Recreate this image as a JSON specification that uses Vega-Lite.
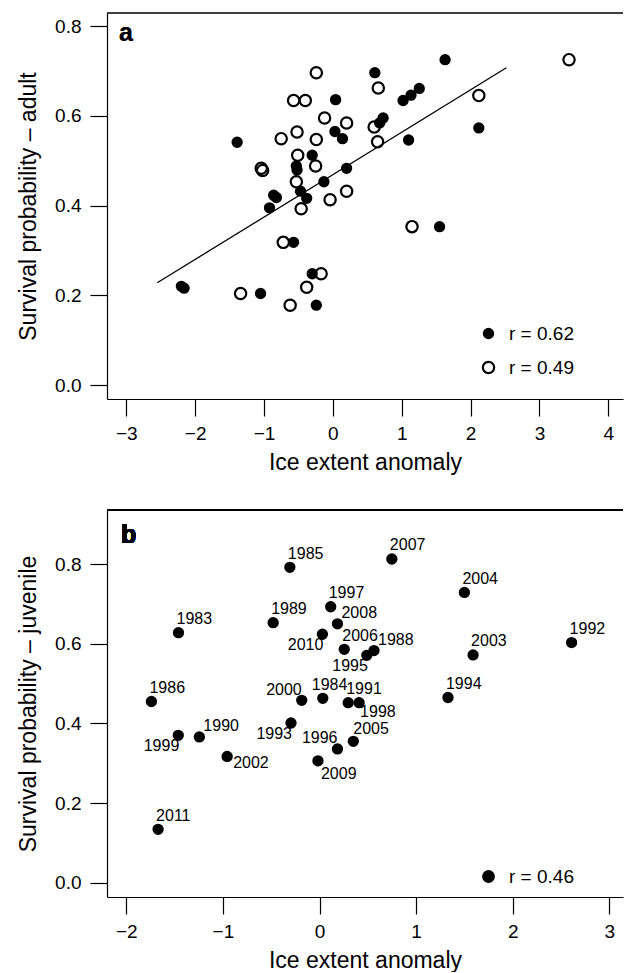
{
  "$schema": "https://vega.github.io/schema/vega-lite/v6.json",
  "background": "white",
  "padding": {"left": 17, "top": 12, "right": 0, "bottom": 0},
  "autosize": {"type": "pad"},
  "spacing": 35,
  "resolve": {
    "scale": {"fill": "independent", "strokeWidth": "independent"},
    "legend": {"fill": "independent", "strokeWidth": "independent"}
  },
  "config": {
    "view": {"stroke": null},
    "font": "Liberation Sans",
    "axis": {
      "labelFont": "Liberation Sans", "labelFontSize": 19, "labelColor": "black",
      "titleFont": "Liberation Sans", "titleFontSize": 23, "titleFontWeight": "normal", "titleColor": "black",
      "grid": false, "domainColor": "black", "domainWidth": 1.2,
      "tickColor": "black", "tickWidth": 1.2, "tickSize": 17,
      "labelPadding": 8, "labelFlush": false, "labelOverlap": false
    },
    "axisX": {"titlePadding": 8},
    "axisY": {"titlePadding": 14, "labelPadding": 9},
    "legend": {
      "labelFont": "Liberation Sans", "labelFontSize": 19, "labelColor": "black",
      "symbolType": "circle", "symbolSize": 128, "labelOffset": 11, "rowPadding": 13,
      "padding": 0, "symbolStrokeColor": "black"
    }
  },
  "datasets": {
    "adult": [
      {"ice": -1.34, "survival": 0.204, "group": "r = 0.49"},
      {"ice": -1.04, "survival": 0.483, "group": "r = 0.49"},
      {"ice": -1.02, "survival": 0.478, "group": "r = 0.49"},
      {"ice": -0.75, "survival": 0.549, "group": "r = 0.49"},
      {"ice": -0.72, "survival": 0.318, "group": "r = 0.49"},
      {"ice": -0.62, "survival": 0.178, "group": "r = 0.49"},
      {"ice": -0.57, "survival": 0.634, "group": "r = 0.49"},
      {"ice": -0.52, "survival": 0.564, "group": "r = 0.49"},
      {"ice": -0.51, "survival": 0.512, "group": "r = 0.49"},
      {"ice": -0.53, "survival": 0.453, "group": "r = 0.49"},
      {"ice": -0.46, "survival": 0.393, "group": "r = 0.49"},
      {"ice": -0.40, "survival": 0.634, "group": "r = 0.49"},
      {"ice": -0.38, "survival": 0.218, "group": "r = 0.49"},
      {"ice": -0.24, "survival": 0.696, "group": "r = 0.49"},
      {"ice": -0.24, "survival": 0.547, "group": "r = 0.49"},
      {"ice": -0.25, "survival": 0.488, "group": "r = 0.49"},
      {"ice": -0.17, "survival": 0.248, "group": "r = 0.49"},
      {"ice": -0.12, "survival": 0.595, "group": "r = 0.49"},
      {"ice": -0.04, "survival": 0.413, "group": "r = 0.49"},
      {"ice": 0.20, "survival": 0.584, "group": "r = 0.49"},
      {"ice": 0.20, "survival": 0.432, "group": "r = 0.49"},
      {"ice": 0.60, "survival": 0.575, "group": "r = 0.49"},
      {"ice": 0.65, "survival": 0.542, "group": "r = 0.49"},
      {"ice": 0.66, "survival": 0.662, "group": "r = 0.49"},
      {"ice": 1.15, "survival": 0.353, "group": "r = 0.49"},
      {"ice": 2.12, "survival": 0.645, "group": "r = 0.49"},
      {"ice": 3.43, "survival": 0.725, "group": "r = 0.49"},
      {"ice": -2.20, "survival": 0.220, "group": "r = 0.62"},
      {"ice": -2.16, "survival": 0.216, "group": "r = 0.62"},
      {"ice": -1.39, "survival": 0.541, "group": "r = 0.62"},
      {"ice": -1.05, "survival": 0.204, "group": "r = 0.62"},
      {"ice": -0.92, "survival": 0.395, "group": "r = 0.62"},
      {"ice": -0.86, "survival": 0.423, "group": "r = 0.62"},
      {"ice": -0.82, "survival": 0.418, "group": "r = 0.62"},
      {"ice": -0.57, "survival": 0.318, "group": "r = 0.62"},
      {"ice": -0.53, "survival": 0.488, "group": "r = 0.62"},
      {"ice": -0.52, "survival": 0.479, "group": "r = 0.62"},
      {"ice": -0.47, "survival": 0.432, "group": "r = 0.62"},
      {"ice": -0.38, "survival": 0.416, "group": "r = 0.62"},
      {"ice": -0.30, "survival": 0.512, "group": "r = 0.62"},
      {"ice": -0.30, "survival": 0.248, "group": "r = 0.62"},
      {"ice": -0.24, "survival": 0.178, "group": "r = 0.62"},
      {"ice": -0.13, "survival": 0.453, "group": "r = 0.62"},
      {"ice": 0.03, "survival": 0.565, "group": "r = 0.62"},
      {"ice": 0.04, "survival": 0.636, "group": "r = 0.62"},
      {"ice": 0.14, "survival": 0.549, "group": "r = 0.62"},
      {"ice": 0.20, "survival": 0.483, "group": "r = 0.62"},
      {"ice": 0.61, "survival": 0.696, "group": "r = 0.62"},
      {"ice": 0.68, "survival": 0.584, "group": "r = 0.62"},
      {"ice": 0.73, "survival": 0.595, "group": "r = 0.62"},
      {"ice": 1.02, "survival": 0.634, "group": "r = 0.62"},
      {"ice": 1.135, "survival": 0.646, "group": "r = 0.62"},
      {"ice": 1.255, "survival": 0.661, "group": "r = 0.62"},
      {"ice": 1.10, "survival": 0.546, "group": "r = 0.62"},
      {"ice": 1.55, "survival": 0.353, "group": "r = 0.62"},
      {"ice": 1.63, "survival": 0.725, "group": "r = 0.62"},
      {"ice": 2.12, "survival": 0.573, "group": "r = 0.62"}
    ],
    "fit": [
      {"ice": -2.55, "survival": 0.228},
      {"ice": 2.52, "survival": 0.707}
    ],
    "juvenile": [
      {"year": 1983, "ice": -1.46, "survival": 0.628, "group": "r = 0.46"},
      {"year": 1984, "ice": 0.034, "survival": 0.463, "group": "r = 0.46"},
      {"year": 1985, "ice": -0.307, "survival": 0.792, "group": "r = 0.46"},
      {"year": 1986, "ice": -1.74, "survival": 0.455, "group": "r = 0.46"},
      {"year": 1988, "ice": 0.564, "survival": 0.583, "group": "r = 0.46"},
      {"year": 1989, "ice": -0.48, "survival": 0.653, "group": "r = 0.46"},
      {"year": 1990, "ice": -1.244, "survival": 0.366, "group": "r = 0.46"},
      {"year": 1991, "ice": 0.297, "survival": 0.452, "group": "r = 0.46"},
      {"year": 1992, "ice": 2.61, "survival": 0.603, "group": "r = 0.46"},
      {"year": 1993, "ice": -0.295, "survival": 0.401, "group": "r = 0.46"},
      {"year": 1994, "ice": 1.33, "survival": 0.465, "group": "r = 0.46"},
      {"year": 1995, "ice": 0.49, "survival": 0.571, "group": "r = 0.46"},
      {"year": 1996, "ice": 0.186, "survival": 0.336, "group": "r = 0.46"},
      {"year": 1997, "ice": 0.116, "survival": 0.693, "group": "r = 0.46"},
      {"year": 1998, "ice": 0.41, "survival": 0.452, "group": "r = 0.46"},
      {"year": 1999, "ice": -1.462, "survival": 0.370, "group": "r = 0.46"},
      {"year": 2000, "ice": -0.184, "survival": 0.458, "group": "r = 0.46"},
      {"year": 2002, "ice": -0.956, "survival": 0.317, "group": "r = 0.46"},
      {"year": 2003, "ice": 1.59, "survival": 0.572, "group": "r = 0.46"},
      {"year": 2004, "ice": 1.50, "survival": 0.729, "group": "r = 0.46"},
      {"year": 2005, "ice": 0.35, "survival": 0.355, "group": "r = 0.46"},
      {"year": 2006, "ice": 0.256, "survival": 0.586, "group": "r = 0.46"},
      {"year": 2007, "ice": 0.749, "survival": 0.813, "group": "r = 0.46"},
      {"year": 2008, "ice": 0.186, "survival": 0.650, "group": "r = 0.46"},
      {"year": 2009, "ice": -0.016, "survival": 0.306, "group": "r = 0.46"},
      {"year": 2010, "ice": 0.03, "survival": 0.624, "group": "r = 0.46"},
      {"year": 2011, "ice": -1.671, "survival": 0.134, "group": "r = 0.46"}
    ]
  },
  "vconcat": [
    {
      "width": 516,
      "height": 386,
      "layer": [
        {
          "data": {"name": "fit"},
          "mark": {"type": "rule", "color": "black", "strokeWidth": 1.2},
          "encoding": {
            "y": {"datum": 0.829, "type": "quantitative", "scale": {"domain": [-0.031, 0.829], "nice": false, "zero": false}}
          }
        },
        {
          "data": {"name": "fit"},
          "mark": {"type": "line", "color": "black", "strokeWidth": 1.3},
          "encoding": {
            "x": {"field": "ice", "type": "quantitative", "scale": {"domain": [-3.28, 4.214], "nice": false, "zero": false}},
            "y": {"field": "survival", "type": "quantitative", "scale": {"domain": [-0.031, 0.829], "nice": false, "zero": false}}
          }
        },
        {
          "data": {"name": "adult"},
          "mark": {"type": "point", "shape": "circle", "size": 128, "stroke": "black", "opacity": 1},
          "encoding": {
            "x": {"field": "ice", "type": "quantitative", "scale": {"domain": [-3.28, 4.214], "nice": false, "zero": false},
                  "axis": {"values": [-3, -2, -1, 0, 1, 2, 3, 4], "format": "d", "title": "Ice extent anomaly"}},
            "y": {"field": "survival", "type": "quantitative", "scale": {"domain": [-0.031, 0.829], "nice": false, "zero": false},
                  "axis": {"values": [0, 0.2, 0.4, 0.6, 0.8], "format": ".1f", "title": "Survival probability – adult"}},
            "fill": {"field": "group", "type": "nominal", "sort": null,
                     "scale": {"domain": ["r = 0.62", "r = 0.49"], "range": ["black", "transparent"]},
                     "legend": {"title": null, "orient": "none", "legendX": 372, "legendY": 311, "symbolSize": 128}},
            "strokeWidth": {"field": "group", "type": "nominal", "sort": null,
                     "scale": {"domain": ["r = 0.62", "r = 0.49"], "range": [0, 2.2]},
                     "legend": {"title": null, "orient": "none", "legendX": 372, "legendY": 311, "symbolSize": 128}}
          }
        },
        {
          "data": {"name": "fit"},
          "mark": {"type": "text", "text": "a", "fontSize": 25, "fontWeight": "bold", "align": "left", "baseline": "alphabetic", "color": "black"},
          "encoding": {
            "x": {"datum": -3.106, "type": "quantitative", "scale": {"domain": [-3.28, 4.214], "nice": false, "zero": false}},
            "y": {"datum": 0.766, "type": "quantitative", "scale": {"domain": [-0.031, 0.829], "nice": false, "zero": false}}
          }
        }
      ]
    },
    {
      "width": 516,
      "height": 387,
      "data": {"name": "juvenile"},
      "encoding": {
        "x": {"field": "ice", "type": "quantitative", "scale": {"domain": [-2.2, 3.142], "nice": false, "zero": false},
              "axis": {"values": [-2, -1, 0, 1, 2, 3], "format": "d", "title": "Ice extent anomaly"}},
        "y": {"field": "survival", "type": "quantitative", "scale": {"domain": [-0.036, 0.936], "nice": false, "zero": false},
              "axis": {"values": [0, 0.2, 0.4, 0.6, 0.8], "format": ".1f", "title": "Survival probability – juvenile"}},
        "text": {"field": "year", "type": "quantitative", "format": "d"}
      },
      "layer": [
        {
          "mark": {"type": "rule", "color": "black", "strokeWidth": 1.2},
          "encoding": {
            "x": null, "text": null,
            "y": {"datum": 0.936, "type": "quantitative"}
          }
        },
        {
          "mark": {"type": "point", "shape": "circle", "size": 128, "opacity": 1, "strokeWidth": 0},
          "encoding": {
            "text": null,
            "fill": {"field": "group", "type": "nominal",
                     "scale": {"domain": ["r = 0.46"], "range": ["black"]},
                     "legend": {"title": null, "orient": "none", "legendX": 372, "legendY": 357, "symbolSize": 128}}
          }
        },
        {
          "transform": [{"filter": {"field": "year", "oneOf": [1983, 1985, 2007, 2004, 1992, 2003, 1989, 1997, 2006, 1986, 1991, 1994, 2011]}}],
          "mark": {"type": "text", "fontSize": 16, "align": "left", "baseline": "middle", "dx": -2, "dy": -13.5, "color": "black"}
        },
        {
          "transform": [{"filter": {"field": "year", "oneOf": [2005]}}],
          "mark": {"type": "text", "fontSize": 16, "align": "left", "baseline": "middle", "dx": 0, "dy": -12, "color": "black"}
        },
        {
          "transform": [{"filter": {"field": "year", "oneOf": [2008, 1988, 1990]}}],
          "mark": {"type": "text", "fontSize": 16, "align": "left", "baseline": "middle", "dx": 4, "dy": -11, "color": "black"}
        },
        {
          "transform": [{"filter": {"field": "year", "oneOf": [1984]}}],
          "mark": {"type": "text", "fontSize": 16, "align": "left", "baseline": "middle", "dx": -11, "dy": -13.5, "color": "black"}
        },
        {
          "transform": [{"filter": {"field": "year", "oneOf": [2000, 1996]}}],
          "mark": {"type": "text", "fontSize": 16, "align": "right", "baseline": "middle", "dx": 0, "dy": -10.5, "color": "black"}
        },
        {
          "transform": [{"filter": {"field": "year", "oneOf": [2010, 1995, 1993, 1999]}}],
          "mark": {"type": "text", "fontSize": 16, "align": "right", "baseline": "middle", "dx": 1, "dy": 11, "color": "black"}
        },
        {
          "transform": [{"filter": {"field": "year", "oneOf": [1998]}}],
          "mark": {"type": "text", "fontSize": 16, "align": "left", "baseline": "middle", "dx": 1, "dy": 9, "color": "black"}
        },
        {
          "transform": [{"filter": {"field": "year", "oneOf": [2009]}}],
          "mark": {"type": "text", "fontSize": 16, "align": "left", "baseline": "middle", "dx": 3, "dy": 13.3, "color": "black"}
        },
        {
          "transform": [{"filter": {"field": "year", "oneOf": [2002]}}],
          "mark": {"type": "text", "fontSize": 16, "align": "left", "baseline": "middle", "dx": 6, "dy": 7, "color": "black"}
        },
        {
          "mark": {"type": "text", "text": "b", "fontSize": 25, "fontWeight": "bold", "align": "left", "baseline": "alphabetic", "color": "black"},
          "encoding": {
            "text": null,
            "x": {"datum": -2.055, "type": "quantitative"},
            "y": {"datum": 0.853, "type": "quantitative"}
          }
        }
      ]
    }
  ]
}
